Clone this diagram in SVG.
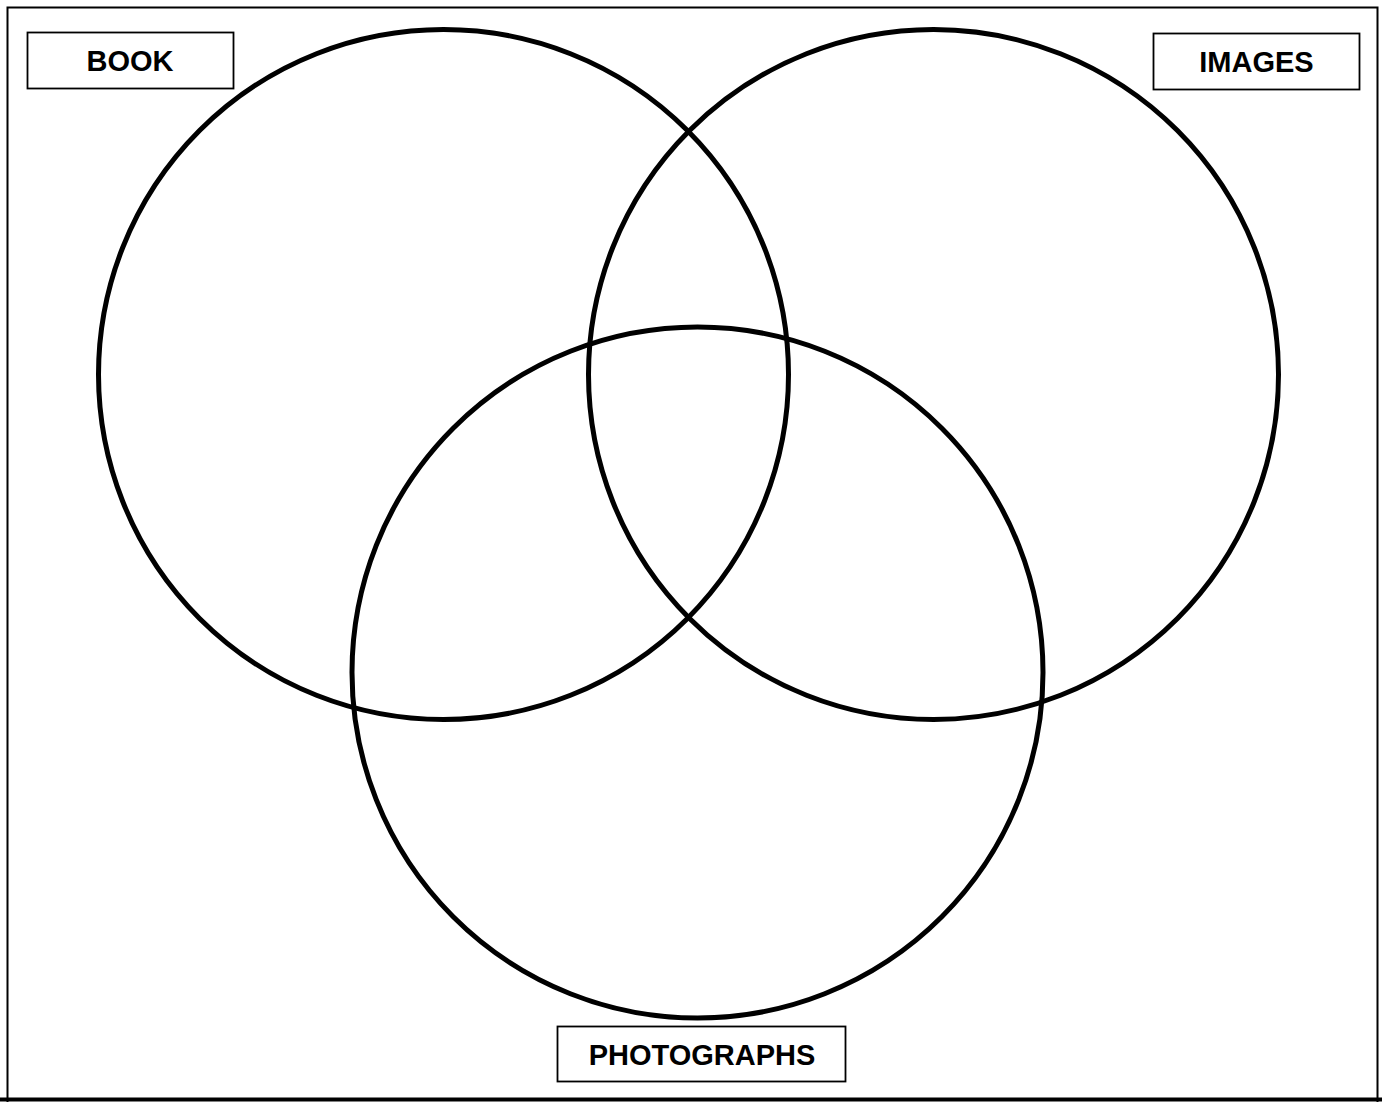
<svg xmlns="http://www.w3.org/2000/svg" width="1382" height="1102" viewBox="0 0 1382 1102">
<style>
.c{fill:none;stroke:#000;stroke-width:5}
.b{fill:#fff;stroke:#000;stroke-width:1.8}
.t{font-family:"Liberation Sans",Arial,sans-serif;font-weight:bold;font-size:29px;text-anchor:middle;fill:#000}
</style>
<rect x="0" y="0" width="1382" height="1102" fill="#fff"/>
<g id="frame">
<path d="M7.5 1102 V7.5 H1377.5 V1102" fill="none" stroke="#000" stroke-width="2"/>
<line x1="0" y1="1099.5" x2="1382" y2="1099.5" stroke="#000" stroke-width="4"/>
</g>
<g id="circle-book"><circle class="c" cx="443.5" cy="374.5" r="345"/></g>
<g id="circle-images"><circle class="c" cx="933.5" cy="374.5" r="345"/></g>
<g id="circle-photographs"><circle class="c" cx="697.5" cy="672.5" r="345.5"/></g>
<g id="label-book"><rect class="b" x="27.5" y="32.5" width="206" height="56"/><text class="t" x="130" y="71">BOOK</text></g>
<g id="label-images"><rect class="b" x="1153.5" y="33.5" width="206" height="56"/><text class="t" x="1256.5" y="72">IMAGES</text></g>
<g id="label-photographs"><rect class="b" x="557.5" y="1026.5" width="288" height="55"/><text class="t" x="702" y="1065">PHOTOGRAPHS</text></g>
<g id="connectors"/>
</svg>
